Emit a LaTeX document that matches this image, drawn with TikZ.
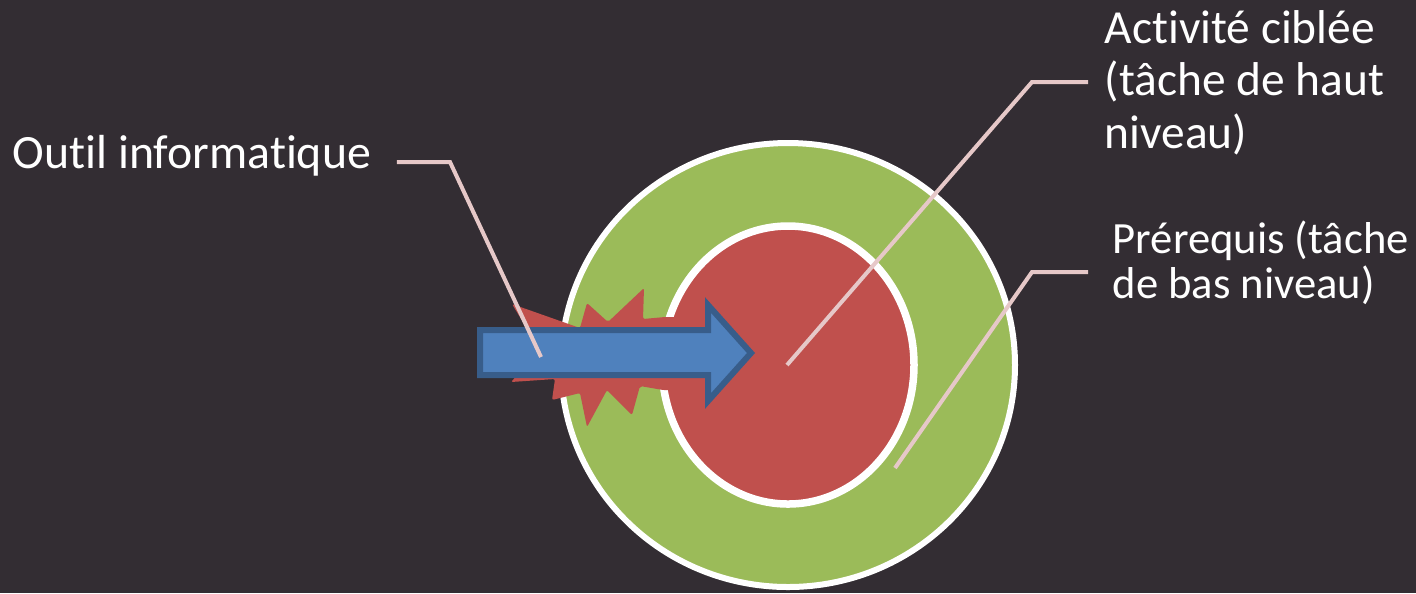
\documentclass[tikz,border=0pt]{standalone}
\usepackage{fontspec}
\setmainfont[Ligatures=NoCommon]{Carlito}
\usepackage{xcolor}
\usetikzlibrary{calc}
\definecolor{slidebg}{RGB}{51,45,51}
\definecolor{ringgreen}{RGB}{155,187,89}
\definecolor{corered}{RGB}{192,80,77}
\definecolor{toolblue}{RGB}{79,129,189}
\definecolor{tooledge}{RGB}{56,93,138}
\definecolor{pinline}{RGB}{230,200,200}

\begin{document}
\begin{tikzpicture}[
    x=0.1mm, y=-0.1mm,
    ring/.style={draw=white, line width=0.6mm},
    callout/.style={draw=pinline, line width=0.4mm},
    lbl/.style={text=white, font=\fontsize{13.5pt}{14.9pt}\selectfont, align=left, inner sep=0pt, anchor=base west},
    lbltight/.style={lbl, font=\fontsize{12.7pt}{12.8pt}\selectfont}
]
\fill[slidebg] (0,0) rectangle (1416,593);
\useasboundingbox (0,0) rectangle (1416,593);
% target: outer ring and core
\coordinate (c) at (788,365);
\filldraw[ring, fill=ringgreen] (c) ellipse [x radius=227, y radius=222];
\filldraw[ring, line width=0.75mm, fill=corered] (c) ellipse [x radius=126, y radius=139];
% burst behind the tool arrow
\fill[corered, rounded corners=0.2mm] (512,304) -- (580,328) -- (587,303) -- (608,322) -- (644,288) -- (643,319)
    -- (665,317) -- (715,318) -- (722,355) -- (712,392) -- (663,390) -- (640,386) -- (632,415) -- (607,390)
    -- (587,427) -- (580,393) -- (552,400) -- (555,379) -- (511,382) -- (540,350) -- cycle;
% tool arrow
\filldraw[fill=toolblue, draw=tooledge, line width=0.6mm, miter limit=4]
    (480,330) -- (708,330) -- (708,305) -- (751,353) -- (708,401) -- (708,375) -- (480,375) -- cycle;
% labels (base = last line)
\node[lbl, font=\fontsize{13.6pt}{14.9pt}\selectfont] (tool) at (12,168) {Outil informatique};
\node[lbl] (target) at (1104,148) {Activité ciblée\\(tâche de haut\\niveau)};
\node[lbltight] (prereq) at (1112,298) {Prérequis (tâche\\de bas niveau)};
% callouts
\coordinate (toolknee) at (450,162);
\coordinate (toolpin) at (541,357);
\coordinate (targetknee) at (1032,82);
\coordinate (targetpin) at (787,365);
\coordinate (prereqknee) at (1032,272);
\coordinate (prereqpin) at (895,468);
\draw[callout] ($(tool.east |- toolknee)+(25,0)$) -- (toolknee) -- (toolpin);
\draw[callout] ($(target.west |- targetknee)+(-16,0)$) -- (targetknee) -- (targetpin);
\draw[callout] ($(prereq.west |- prereqknee)+(-24,0)$) -- (prereqknee) -- (prereqpin);
\end{tikzpicture}
\end{document}
